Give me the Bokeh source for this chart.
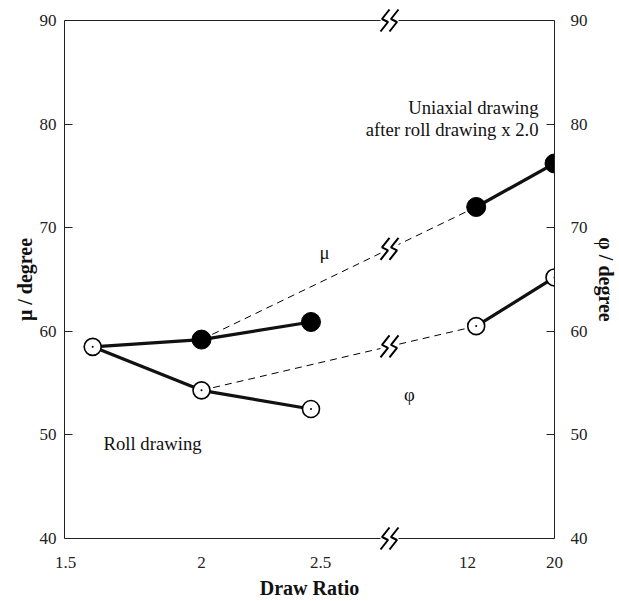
import numpy as np
from bokeh.plotting import figure
from bokeh.models import LinearAxis, FixedTicker, CustomJSTickFormatter, Range1d
from bokeh.core.properties import value
from bokeh.embed import file_html
from bokeh.resources import INLINE

# ---------------- data ----------------
x_tick_labels = ["1.5", "2", "2.5", "12", "20"]
x_tick_ratios = [1.5, 2.0, 2.5, 12.0, 20.0]
y_ticks = [40, 50, 60, 70, 80, 90]

roll_ratio = [1.6, 2.0, 2.46]
roll_mu = [58.5, 59.2, 60.9]
roll_phi = [58.5, 54.3, 52.5]

uni_ratio = [12.8, 20.0]
uni_mu = [72.0, 76.2]
uni_phi = [60.5, 65.2]

# ---------------- layout (broken axis) ----------------
AXIS_POS = [1, 137, 256, 403, 490]   # screen-position of each draw-ratio tick
X_END = 490
BREAK_POS = 325
GAP = 9
Y_PX = 10.36                          # pixels per degree
PAD = 12 / Y_PX
FONT = "Liberation Serif"


def xpos(r):
    return np.interp(r, x_tick_ratios, AXIS_POS)


p = figure(width=619, height=601, output_backend="svg", toolbar_location=None,
           x_range=Range1d(0, X_END), y_range=Range1d(40 - PAD, 90 + PAD),
           min_border_left=64, min_border_right=65, min_border_top=8, min_border_bottom=51)
p.outline_line_color = None
p.xgrid.visible = False
p.ygrid.visible = False
p.background_fill_color = "white"

# x axis
xa = p.xaxis[0]
tick_pos = [float(v) for v in xpos(x_tick_ratios)]
xa.ticker = FixedTicker(ticks=tick_pos)
xa.formatter = CustomJSTickFormatter(args=dict(pos=tick_pos, labels=x_tick_labels), code="""
let best = 0;
for (let i = 0; i < pos.length; i++) { if (Math.abs(pos[i] - tick) < Math.abs(pos[best] - tick)) best = i; }
return labels[best];
""")
xa.axis_line_color = None
xa.major_tick_line_color = None
xa.minor_tick_line_color = None
xa.major_label_standoff = 0
xa.axis_label = "Draw Ratio"
xa.axis_label_standoff = 6


def style_y(ax, standoff, lstandoff):
    ax.ticker = FixedTicker(ticks=y_ticks)
    ax.bounds = (40, 90)
    ax.major_tick_in = 8
    ax.major_tick_out = 0
    ax.minor_tick_line_color = None
    ax.major_label_standoff = standoff
    ax.axis_label_standoff = lstandoff
    ax.axis_line_color = "#222222"
    ax.major_tick_line_color = "#222222"


ya = p.yaxis[0]
style_y(ya, 8, 1)
ya.axis_label = "μ / degree"

yr = LinearAxis()
style_y(yr, 16, 4)
yr.axis_label = "φ / degree"
p.add_layout(yr, "right")

for ax in [xa, ya, yr]:
    ax.major_label_text_font = FONT
    ax.major_label_text_font_size = "17px"
    ax.major_label_text_color = "#222222"
    ax.axis_label_text_font = FONT
    ax.axis_label_text_font_size = "20px"
    ax.axis_label_text_font_style = "bold"
    ax.axis_label_text_color = "#111111"

# top / bottom frame lines with break gap
for yv in [40, 90]:
    p.segment(x0=[0, BREAK_POS + GAP], y0=[yv, yv], x1=[BREAK_POS - GAP, X_END], y1=[yv, yv],
              line_color="#222222", line_width=1.2)


def zigzag(cx, cy):
    shape = [(4.5, 11), (-3, 1.5), (3, -1.5), (-4.5, -11)]
    xs, ys = [], []
    for off in (-4.5, 4.5):
        xs.append([cx + off + a for a, b in shape])
        ys.append([cy + b / Y_PX for a, b in shape])
    return xs, ys


breaks_x, breaks_y = [], []

# dashed connectors (roll x2.0 -> uniaxial)
x0 = float(xpos(roll_ratio[1]))
x1 = float(xpos(uni_ratio[0]))
for ya0, ya1 in [(roll_mu[1], uni_mu[0]), (roll_phi[1], uni_phi[0])]:
    pts_x = [x0, BREAK_POS - GAP, BREAK_POS + GAP, x1]
    pts_y = list(np.interp(pts_x, [x0, x1], [ya0, ya1]))
    p.line(pts_x[:2], pts_y[:2], line_color="black", line_width=1, line_dash="7 5")
    p.line(pts_x[2:][::-1], pts_y[2:][::-1], line_color="black", line_width=1, line_dash="7 5")
    zx, zy = zigzag(BREAK_POS, float(np.interp(BREAK_POS, [x0, x1], [ya0, ya1])))
    breaks_x += zx
    breaks_y += zy

for yv in [40, 90]:
    zx, zy = zigzag(BREAK_POS, yv)
    breaks_x += zx
    breaks_y += zy

p.multi_line(breaks_x, breaks_y, line_color="black", line_width=2)

# solid lines
p.line(xpos(roll_ratio), roll_mu, line_color="#111111", line_width=3.2)
p.line(xpos(roll_ratio), roll_phi, line_color="#111111", line_width=3.2)
p.line(xpos(uni_ratio), uni_mu, line_color="#111111", line_width=3.2)
p.line(xpos(uni_ratio), uni_phi, line_color="#111111", line_width=3.2)

# markers
fx = list(xpos(roll_ratio[1:])) + list(xpos(uni_ratio))
fy = roll_mu[1:] + uni_mu
p.scatter(fx, fy, marker="circle", size=19, fill_color="black", line_color="black")

ox = list(xpos(roll_ratio)) + list(xpos(uni_ratio))
oy = roll_phi + uni_phi
p.scatter(ox, oy, marker="circle", size=17, fill_color="white", line_color="black", line_width=1.6)
p.scatter(ox, oy, marker="circle", size=2, fill_color="black", line_color=None)

# annotations
tkw = dict(text_font=value(FONT), text_font_size="18.7px", text_color="#111111", text_baseline="middle")
p.text(x=[474, 474], y=[81.6, 79.5], text=["Uniaxial drawing", "after roll drawing x 2.0"],
       text_align="right", **tkw)
p.text(x=[260], y=[67.6], text=["μ"], text_align="center", **tkw)
p.text(x=[345], y=[53.9], text=["φ"], text_align="center", **tkw)
p.text(x=[39], y=[49.2], text=["Roll drawing"], text_align="left", **tkw)

open("out.html", "w").write(file_html(p, INLINE))
